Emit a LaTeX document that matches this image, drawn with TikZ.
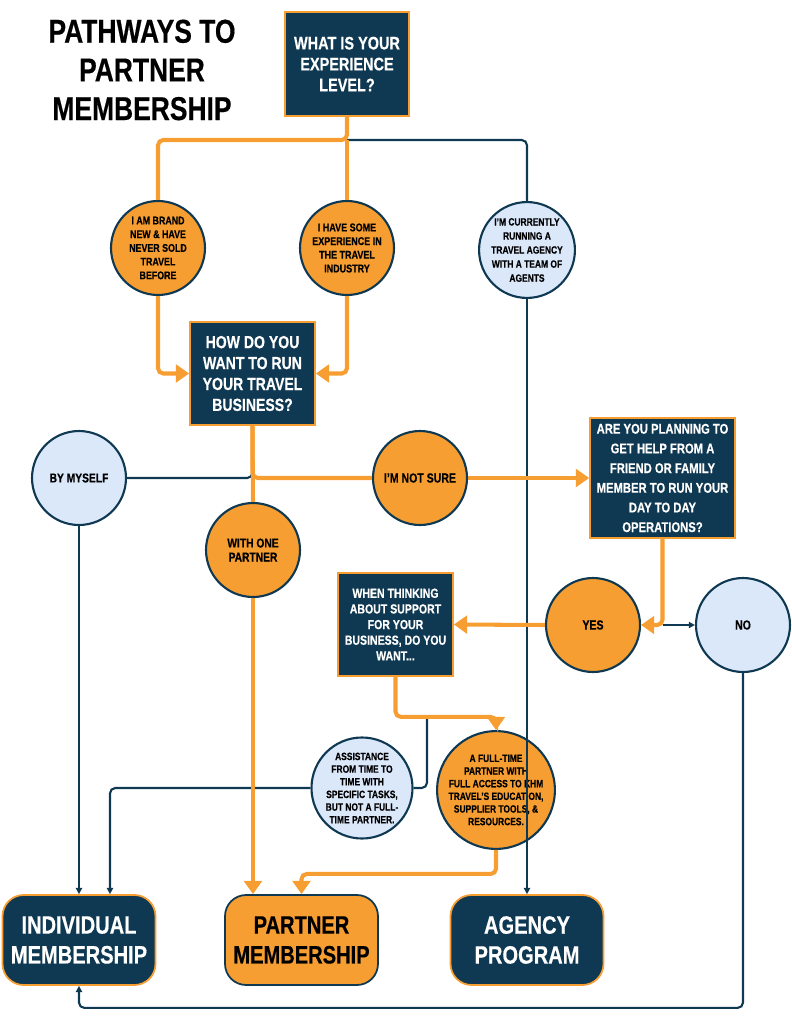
\documentclass[tikz,border=0pt]{standalone}
\usepackage{fontspec}
\setmainfont{Liberation Sans}[FakeStretch=0.8, BoldFeatures={FakeBold=0.4}]
\usetikzlibrary{arrows.meta}
\definecolor{knavy}{RGB}{15,57,82}
\definecolor{korange}{RGB}{247,158,50}
\definecolor{kblue}{RGB}{219,232,250}
\newcommand{\kfont}[2]{\fontsize{#1}{#2}\selectfont\bfseries}
\tikzset{
    qbox/.style={draw=korange, fill=knavy, line width=1pt, text=white, align=center, inner sep=0pt},
    obub/.style={circle, draw=knavy, fill=korange, line width=1.2pt, minimum size=1.88cm, inner sep=0pt, align=center, text=black},
    bbub/.style={obub, fill=kblue},
    endbox/.style={rounded corners=12pt, line width=1pt, minimum width=3.06cm, minimum height=1.8cm, align=center, inner sep=0pt, font=\kfont{14.3}{17}},
    endnavy/.style={endbox, draw=korange, fill=knavy, text=white},
    endorange/.style={endbox, draw=knavy, fill=korange, text=black},
    oline/.style={draw=korange, line width=2.3pt, rounded corners=3pt},
    nline/.style={draw=knavy, line width=1.2pt, rounded corners=3pt},
    otip/.style={-{Triangle[length=7.5pt,width=10pt]}},
    ntip/.style={-{Triangle[length=3.5pt,width=3.5pt]}}
}
\begin{document}
\begin{tikzpicture}[x=0.02cm, y=-0.02cm]
    \useasboundingbox (0,0) rectangle (791,1024);
    % questions
    \node[align=center, font=\kfont{18.8}{22}] (title) at (142,70) {PATHWAYS TO\\PARTNER\\MEMBERSHIP};
    \node[qbox, minimum width=2.48cm, minimum height=2.08cm, font=\kfont{10.3}{11.9}] (q1) at (347,64) {WHAT IS YOUR\\EXPERIENCE\\LEVEL?};
    \node[qbox, minimum width=2.5cm, minimum height=2.06cm, font=\kfont{10}{11.9}] (q2) at (252.5,373.5) {HOW DO YOU\\WANT TO RUN\\YOUR TRAVEL\\BUSINESS?};
    \node[qbox, minimum width=2.9cm, minimum height=2.4cm, font=\kfont{8}{11.2}] (q3) at (662.5,478) {ARE YOU PLANNING TO\\GET HELP FROM A\\FRIEND OR FAMILY\\MEMBER TO RUN YOUR\\DAY TO DAY\\OPERATIONS?};
    \node[qbox, minimum width=2.3cm, minimum height=2.06cm, font=\kfont{7.5}{8.9}] (q4) at (395.5,624.5) {WHEN THINKING\\ABOUT SUPPORT\\FOR YOUR\\BUSINESS, DO YOU\\WANT...};
    % answers
    \node[obub, font=\kfont{6.3}{7.8}] (a) at (158,248) {I AM BRAND\\NEW \& HAVE\\NEVER SOLD\\TRAVEL\\BEFORE};
    \node[obub, font=\kfont{6.4}{7.8}] (b) at (347,248) {I HAVE SOME\\EXPERIENCE IN\\THE TRAVEL\\INDUSTRY};
    \node[bbub, font=\kfont{6}{8}] (c) at (527,250) {I’M CURRENTLY\\RUNNING A\\TRAVEL AGENCY\\WITH A TEAM OF\\AGENTS};
    \node[bbub, font=\kfont{7.3}{8}] (self) at (79,478) {BY MYSELF};
    \node[obub, font=\kfont{7.5}{8}] (notsure) at (420,478) {I’M NOT SURE};
    \node[obub, font=\kfont{7.3}{8}] (one) at (253,550) {WITH ONE\\PARTNER};
    \node[obub, font=\kfont{7.5}{8}] (yes) at (593,625) {YES};
    \node[bbub, font=\kfont{7.5}{8}] (no) at (743,625) {NO};
    \node[bbub, minimum size=1.92cm, font=\kfont{6}{7.2}] (assist) at (362,788) {ASSISTANCE\\FROM TIME TO\\TIME WITH\\SPECIFIC TASKS,\\BUT NOT A FULL-\\TIME PARTNER.};
    \node[obub, minimum size=1.9cm, font=\kfont{6}{7.2}] (full) at (496,790) {A FULL-TIME\\PARTNER WITH\\FULL ACCESS TO KHM\\TRAVEL’S EDUCATION,\\SUPPLIER TOOLS, \&\\RESOURCES.};
    % outcomes
    \node[endnavy] (indiv) at (79,940) {INDIVIDUAL\\MEMBERSHIP};
    \node[endorange] (partner) at (301.5,940) {PARTNER\\MEMBERSHIP};
    \node[endnavy] (agency) at (527,940) {AGENCY\\PROGRAM};
    \coordinate (s1) at (347,140);
    \coordinate (s2) at (252.5,466);
    \coordinate (s3) at (q3.south |- yes.east);
    \coordinate (s4) at (427,716);
    % navy paths
    \draw[nline] (s1) -| (c.north);
    \draw[nline, ntip] (c.south) -- (agency.north);
    \draw[nline] (s2) |- (self.east);
    \draw[nline, ntip] (self.south) -- (indiv.north);
    \draw[nline, ntip] (s3) -- (no.west);
    \draw[nline] (s4) |- (assist.east);
    \draw[nline, ntip] (assist.west) -| ([xshift=0.62cm]indiv.north);
    \draw[nline, ntip] (no.south) |- ([yshift=-0.44cm]indiv.south) -- (indiv.south);
    % orange paths
    \draw[oline] (q1.south) -- (s1) -| (a.north);
    \draw[oline] (s1) -- (b.north);
    \draw[oline, otip] (a.south) |- (q2.west);
    \draw[oline, otip] (b.south) |- (q2.east);
    \draw[oline] (q2.south) |- (notsure.west);
    \draw[oline, otip] (notsure.east) -- (q3.west);
    \draw[oline] (q2.south) -- (one.north);
    \draw[oline, otip] (one.south) -- (one.south |- partner.north);
    \draw[oline, otip] (q3.south) |- (yes.east);
    \draw[oline, otip] (yes.west) -- (q4.east);
    \draw[oline, otip] (q4.south) -- ++(0,40) -| (full.north);
    \draw[oline, otip] (full.south) -- ++(0,24) -| (partner.north);
\end{tikzpicture}
\end{document}
